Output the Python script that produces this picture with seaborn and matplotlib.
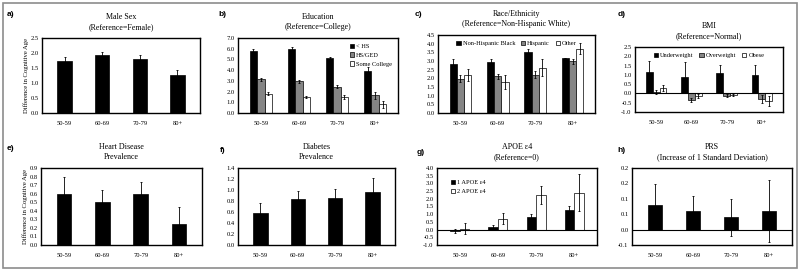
import pandas as pd
import matplotlib
matplotlib.use('Agg')
import matplotlib.pyplot as plt
import seaborn as sns

ages = ['50-59', '60-69', '70-79', '80+']

male_vals = [1.72, 1.95, 1.80, 1.27]
male_err = [0.15, 0.10, 0.12, 0.18]

edu_groups = ['< HS', 'HS/GED', 'Some College']
edu_vals = [[5.8, 6.0, 5.1, 3.95], [3.15, 2.95, 2.45, 1.65], [1.8, 1.5, 1.5, 0.8]]
edu_err = [[0.2, 0.15, 0.15, 0.35], [0.15, 0.12, 0.15, 0.3], [0.15, 0.12, 0.15, 0.3]]

race_groups = ['Non-Hispanic Black', 'Hispanic', 'Other']
race_vals = [[2.85, 2.92, 3.5, 3.2], [1.98, 2.12, 2.2, 2.98], [2.2, 1.78, 2.62, 3.72]]
race_err = [[0.25, 0.2, 0.2, 0.0], [0.2, 0.15, 0.2, 0.15], [0.35, 0.4, 0.5, 0.34]]

bmi_groups = ['Underweight', 'Overweight', 'Obese']
bmi_vals = [[1.15, 0.88, 1.12, 0.97], [0.07, -0.35, -0.12, -0.3], [0.28, -0.12, -0.08, -0.4]]
bmi_err = [[0.6, 0.8, 0.42, 0.55], [0.1, 0.12, 0.08, 0.2], [0.15, 0.1, 0.07, 0.28]]

heart_vals = [0.6, 0.5, 0.6, 0.24]
heart_err = [0.2, 0.14, 0.14, 0.2]

diab_vals = [0.58, 0.84, 0.86, 0.96]
diab_err = [0.18, 0.15, 0.15, 0.25]

apoe_groups = ['1 APOE \u03b54', '2 APOE \u03b54']
apoe_vals = [[-0.1, 0.2, 0.85, 1.3], [0.05, 0.7, 2.25, 2.4]]
apoe_err = [[0.15, 0.1, 0.15, 0.25], [0.35, 0.35, 0.6, 1.2]]

prs_vals = [0.079, 0.06, 0.04, 0.06]
prs_err = [0.07, 0.05, 0.06, 0.1]
prs_ticklabels = ['-0.1', '0.0', '0.1', '0.1', '0.2', '0.2']

FONT = 'Liberation Serif'
W, H = 800, 271

fig = plt.figure(figsize=(8, 2.71), dpi=100)


def long_df(groups, vals):
    rows = []
    for g, v in zip(groups, vals):
        for a, y in zip(ages, v):
            rows.append({'age': a, 'group': g, 'val': y})
    return pd.DataFrame(rows)


def panel(box, letter, letter_xy, title, vals, errs, groups=None, colors=None,
          ylim=(0, 1), step=0.5, width=0.38, zero=False, legend=None, ylabel=False):
    l, t, r, b = box
    ax = fig.add_axes([l / W, 1 - b / H, (r - l) / W, (b - t) / H])
    if groups is None:
        df = pd.DataFrame({'age': ages, 'val': vals})
        sns.barplot(data=df, x='age', y='val', color='black', width=width,
                    edgecolor='black', linewidth=0.5, errorbar=None, ax=ax)
        errs = [errs]
    else:
        df = long_df(groups, vals)
        sns.barplot(data=df, x='age', y='val', hue='group', palette=colors,
                    width=width, edgecolor='black', linewidth=0.5, errorbar=None,
                    saturation=1, ax=ax)
    for cont, err in zip(ax.containers, errs):
        xs = [p.get_x() + p.get_width() / 2 for p in cont]
        ys = [p.get_height() for p in cont]
        ax.errorbar(xs, ys, yerr=err, fmt='none', ecolor='black', elinewidth=0.6,
                    capsize=1.0, capthick=0.6, zorder=5)
    if zero:
        ax.axhline(0, color='black', lw=0.8, zorder=6)
    ax.set_ylim(*ylim)
    n = int(round((ylim[1] - ylim[0]) / step))
    ticks = [ylim[0] + i * step for i in range(n + 1)]
    ax.set_yticks(ticks)
    ax.set_yticklabels(['%.1f' % v for v in ticks])
    ax.set_xlim(-0.6, 3.6)
    ax.set_xlabel('')
    ax.set_ylabel('Difference in Cognitive Age' if ylabel else '',
                  fontsize=4.8, family=FONT, labelpad=1)
    ax.tick_params(length=0, labelsize=4.7, pad=2.5)
    ax.tick_params(axis='x', pad=5.5)
    for lab in ax.get_xticklabels() + ax.get_yticklabels():
        lab.set_family(FONT)
    for s in ax.spines.values():
        s.set_visible(True)
        s.set_color('black')
        s.set_linewidth(1.0)
    cx = (l + r) / 2 / W
    fig.text(cx, 1 - t / H + 0.025, title, ha='center', va='bottom',
             fontsize=5.8, family=FONT, linespacing=1.3)
    fig.text(letter_xy[0] / W, 1 - letter_xy[1] / H, letter, ha='left', va='center',
             fontsize=6, fontweight='bold', family='Liberation Sans')
    if groups is not None:
        if legend is None:
            ax.get_legend().remove()
        else:
            loc, ncol, anchor = legend
            sns.move_legend(ax, loc, bbox_to_anchor=anchor, ncol=ncol, frameon=False,
                            title=None, handlelength=0.7, handleheight=0.7,
                            handletextpad=0.3, columnspacing=0.9, labelspacing=0.5,
                            prop={'family': FONT, 'size': 4.6})
    return ax


shades = ['black', '#858585', 'white']

panel((42, 38, 200, 113), 'a)', (7, 15), 'Male Sex\n(Reference=Female)',
      male_vals, male_err, ylim=(0, 2.5), step=0.5, ylabel=True)
panel((238, 38, 398, 113), 'b)', (218, 14), 'Education\n(Reference=College)',
      edu_vals, edu_err, groups=edu_groups, colors=shades, ylim=(0, 7), step=1.0,
      width=0.58, legend=('upper right', 1, (1.0, 1.0)))
panel((438, 35, 595, 113), 'c)', (415, 15), 'Race/Ethnicity\n(Reference=Non-Hispanic White)',
      race_vals, race_err, groups=race_groups, colors=shades, ylim=(0, 4.5), step=0.5,
      width=0.58, legend=('upper center', 3, (0.5, 1.0)))
panel((635, 47, 783, 112), 'd)', (618, 14), 'BMI\n(Reference=Normal)',
      bmi_vals, bmi_err, groups=bmi_groups, colors=shades, ylim=(-1, 2.5), step=0.5,
      width=0.58, zero=True, legend=('upper center', 3, (0.5, 1.0)))

panel((41, 168, 202, 245), 'e)', (7, 148), 'Heart Disease\nPrevalence',
      heart_vals, heart_err, ylim=(0, 0.9), step=0.1, ylabel=True)
panel((238, 168, 395, 245), 'f)', (220, 150), 'Diabetes\nPrevalence',
      diab_vals, diab_err, ylim=(0, 1.4), step=0.2)
panel((437, 168, 597, 245), 'g)', (417, 152), 'APOE \u03b54\n(Reference=0)',
      apoe_vals, apoe_err, groups=apoe_groups, colors=['black', 'white'],
      ylim=(-1, 4), step=0.5, width=0.5, zero=True,
      legend=('upper left', 1, (0.05, 0.92)))
ax_h = panel((632, 168, 792, 245), 'h)', (617, 150), 'PRS\n(Increase of 1 Standard Deviation)',
             prs_vals, prs_err, ylim=(-0.05, 0.2), step=0.05, zero=True)
ax_h.set_yticklabels(prs_ticklabels, family=FONT)

fig.add_artist(plt.Rectangle((3 / W, 3 / H), 794 / W, 265 / H, transform=fig.transFigure,
                             fill=False, edgecolor='#8c8c8c', lw=1.2))

fig.savefig('out.png', dpi=100)
